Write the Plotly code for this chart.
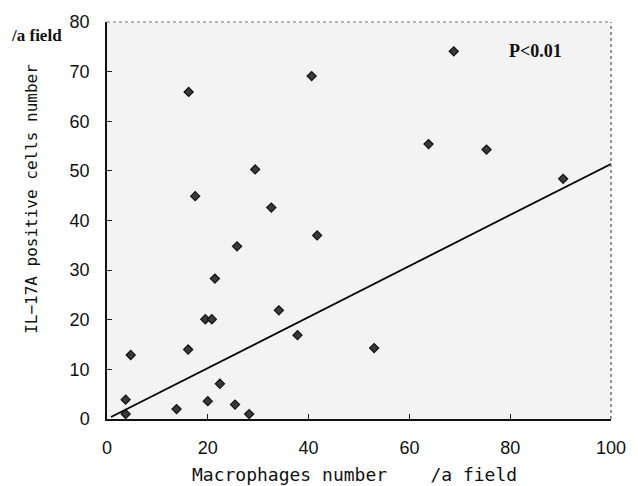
import plotly.graph_objects as go

# Data
macrophages = [3.7, 3.7, 4.7, 13.8, 16.1, 16.2, 17.5, 19.5, 20.8, 20.0, 21.4, 22.4,
               25.4, 25.8, 28.2, 29.4, 32.6, 34.1, 37.8, 40.6, 41.7, 53.0, 63.8,
               68.8, 75.3, 90.5]
il17a = [1.0, 3.9, 12.9, 2.0, 14.0, 65.9, 44.9, 20.1, 20.1, 3.6, 28.3, 7.1,
         2.9, 34.8, 1.0, 50.3, 42.6, 21.9, 16.9, 69.1, 37.0, 14.3, 55.4,
         74.1, 54.3, 48.4]
trend_x = [0.8, 100]
trend_y = [0.4, 51.4]
x_ticks = [0, 20, 40, 60, 80, 100]
y_ticks = [0, 10, 20, 30, 40, 50, 60, 70, 80]

W, H = 638, 486
L, R, T, B = 107, 16, 18, 67
pw, ph = W - L - R, H - T - B


def px(x):
    return (x - L) / pw


def py(y):
    return (H - B - y) / ph


fig = go.Figure()
fig.add_trace(go.Scatter(
    x=trend_x, y=trend_y, mode="lines",
    line=dict(color="#000000", width=1.8), hoverinfo="skip", showlegend=False))
fig.add_trace(go.Scatter(
    x=macrophages, y=il17a, mode="markers",
    marker=dict(symbol="diamond", size=7, color="#3a3a3a",
                line=dict(color="#111111", width=1.2)),
    showlegend=False))

tickfont = dict(family="Liberation Sans, Arial, sans-serif", size=18, color="#111")

fig.update_layout(
    width=W, height=H,
    margin=dict(l=L, r=R, t=T, b=B, pad=0),
    paper_bgcolor="white",
    plot_bgcolor="#f3f3f3",
    showlegend=False,
    xaxis=dict(range=[0, 100], tickvals=x_ticks, ticks="inside", ticklen=5,
               tickcolor="#222", showgrid=False, zeroline=False,
               showline=True, linecolor="#111", linewidth=1.5,
               tickfont=tickfont, ticklabelstandoff=12),
    yaxis=dict(range=[0, 80], tickvals=y_ticks, ticks="inside", ticklen=5,
               tickcolor="#222", showgrid=False, zeroline=False,
               showline=True, linecolor="#111", linewidth=1.5,
               tickfont=tickfont, ticklabelstandoff=12),
    shapes=[
        dict(type="line", xref="paper", yref="paper", x0=0, x1=1, y0=1, y1=1,
             line=dict(color="#777", width=1.2, dash="dot")),
        dict(type="line", xref="paper", yref="paper", x0=1, x1=1, y0=0, y1=1,
             line=dict(color="#555", width=1.2, dash="dot")),
    ],
    annotations=[
        dict(text="IL\u221217A positive cells number", xref="paper", yref="paper",
             x=px(30), y=py(197), textangle=-90, showarrow=False,
             xanchor="center", yanchor="middle",
             font=dict(family="DejaVu Sans Mono, monospace", size=16, color="#111")),
        dict(text="Macrophages number\u00a0\u00a0\u00a0\u00a0/a field", xref="paper", yref="paper",
             x=px(360), y=py(475), showarrow=False,
             xanchor="center", yanchor="middle",
             font=dict(family="DejaVu Sans Mono, monospace", size=18, color="#111")),
        dict(text="<b>/a field</b>", xref="paper", yref="paper",
             x=px(7), y=py(32), showarrow=False,
             xanchor="left", yanchor="middle",
             font=dict(family="Liberation Serif, Times New Roman, serif", size=17, color="#111")),
        dict(text="<b>P&lt;0.01</b>", xref="paper", yref="paper",
             x=px(516), y=py(47), showarrow=False,
             xanchor="left", yanchor="middle",
             font=dict(family="Liberation Serif, Times New Roman, serif", size=18, color="#111")),
    ],
)

fig.write_html("out.html")
